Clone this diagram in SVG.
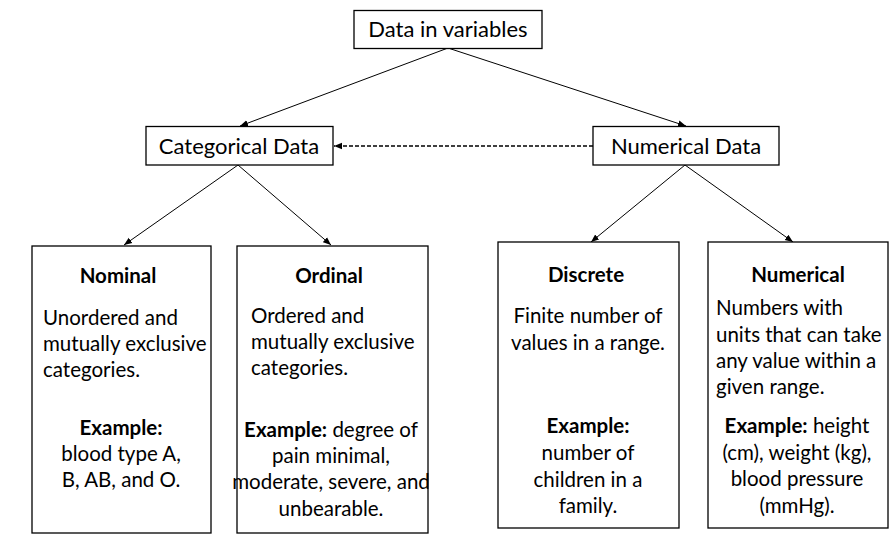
<svg xmlns="http://www.w3.org/2000/svg" width="896" height="536" viewBox="0 0 896 536">
<style>
.box{fill:#fff;stroke:#000;stroke-width:1.3}
text{font-family:Lato,"Open Sans","Liberation Sans",sans-serif;font-size:20.5px;fill:#000}
.t{font-size:22px}
.c{text-anchor:middle}
.b{font-weight:bold}
.ln{stroke:#000;stroke-width:1;fill:none}
.dash{stroke:#000;stroke-width:1.5;fill:none;stroke-dasharray:4 2}
</style>
<defs>
<marker id="ah" viewBox="0 0 10 10" refX="10" refY="5" markerWidth="8" markerHeight="8" markerUnits="userSpaceOnUse" orient="auto">
<path d="M0,1 L10,5 L0,9 Z" fill="#000"/>
</marker>
</defs>
<rect width="896" height="536" fill="#fff"/>
<g id="connectors">
<line class="ln" x1="448" y1="48" x2="240" y2="126" marker-end="url(#ah)"/>
<line class="ln" x1="448" y1="48" x2="686" y2="126" marker-end="url(#ah)"/>
<line class="dash" x1="593" y1="146" x2="334" y2="146" marker-end="url(#ah)"/>
<line class="ln" x1="238" y1="165" x2="124" y2="245" marker-end="url(#ah)"/>
<line class="ln" x1="238" y1="165" x2="331" y2="245" marker-end="url(#ah)"/>
<line class="ln" x1="685" y1="165" x2="591" y2="242" marker-end="url(#ah)"/>
<line class="ln" x1="685" y1="165" x2="793" y2="242" marker-end="url(#ah)"/>
</g>
<g id="data-in-variables">
<rect class="box" x="354" y="10.5" width="188" height="38"/>
<text class="c t" x="448" y="37">Data in variables</text>
</g>
<g id="categorical-data">
<rect class="box" x="146" y="126.5" width="187" height="38.5"/>
<text class="c t" x="239" y="154">Categorical Data</text>
</g>
<g id="numerical-data">
<rect class="box" x="593" y="126.5" width="186" height="38.5"/>
<text class="c t" x="686" y="154">Numerical Data</text>
</g>
<g id="nominal">
<rect class="box" x="32" y="246" width="179" height="287"/>
<text class="c b" x="118" y="283">Nominal</text>
<text x="43" y="325">Unordered and</text>
<text x="43" y="351">mutually exclusive</text>
<text x="43" y="377">categories.</text>
<text class="c b" x="121" y="435">Example:</text>
<text class="c" x="121" y="461">blood type A,</text>
<text class="c" x="121" y="487">B, AB, and O.</text>
</g>
<g id="ordinal">
<rect class="box" x="237" y="246" width="191" height="287"/>
<text class="c b" x="329" y="283">Ordinal</text>
<text x="251" y="323">Ordered and</text>
<text x="251" y="349">mutually exclusive</text>
<text x="251" y="375">categories.</text>
<text class="c" x="331" y="437"><tspan class="b">Example:</tspan> degree of</text>
<text class="c" x="331" y="463">pain minimal,</text>
<text class="c" x="331" y="489">moderate, severe, and</text>
<text class="c" x="331" y="516">unbearable.</text>
</g>
<g id="discrete">
<rect class="box" x="498" y="242" width="181" height="286"/>
<text class="c b" x="586" y="282">Discrete</text>
<text class="c" x="588" y="323">Finite number of</text>
<text class="c" x="588" y="350">values in a range.</text>
<text class="c b" x="588" y="433">Example:</text>
<text class="c" x="588" y="460">number of</text>
<text class="c" x="588" y="487">children in a</text>
<text class="c" x="588" y="513">family.</text>
</g>
<g id="numerical">
<rect class="box" x="708" y="242" width="180" height="286"/>
<text class="c b" x="798" y="282">Numerical</text>
<text x="716" y="315">Numbers with</text>
<text x="716" y="342">units that can take</text>
<text x="716" y="368">any value within a</text>
<text x="716" y="394">given range.</text>
<text class="c" x="797" y="433"><tspan class="b">Example:</tspan> height</text>
<text class="c" x="797" y="460">(cm), weight (kg),</text>
<text class="c" x="797" y="486">blood pressure</text>
<text class="c" x="797" y="513">(mmHg).</text>
</g>
</svg>
